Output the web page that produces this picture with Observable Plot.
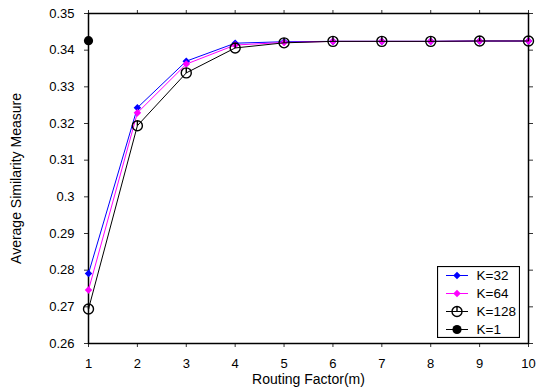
<!DOCTYPE html>
<html>
<head>
<meta charset="utf-8">
<script src="https://cdn.jsdelivr.net/npm/d3@7"></script>
<script src="https://cdn.jsdelivr.net/npm/@observablehq/plot@0.6"></script>
<style>
  body { margin: 0; background: #fff; }
  #wrap { position: relative; width: 538px; height: 391px; font-family: "Liberation Sans", Arial, sans-serif; }
  #legend { position: absolute; left: 437px; top: 266px; }
</style>
</head>
<body>
<div id="wrap"></div>
<script>
// ---- data ----
const routingFactor = [1, 2, 3, 4, 5, 6, 7, 8, 9, 10];
const k32  = [0.2791, 0.3243, 0.3370, 0.3419, 0.3423, 0.3424, 0.3424, 0.3424, 0.3425, 0.3425];
const k64  = [0.2746, 0.3229, 0.3362, 0.3414, 0.3421, 0.3424, 0.3424, 0.3424, 0.3425, 0.3425];
const k128 = [0.2694, 0.3194, 0.3338, 0.3406, 0.3420, 0.3424, 0.3424, 0.3424, 0.3425, 0.3425];
const k1x  = [1];
const k1y  = [0.3426];
const yTicks = [0.26, 0.27, 0.28, 0.29, 0.30, 0.31, 0.32, 0.33, 0.34, 0.35];
const seriesNames = ["K=32", "K=64", "K=128", "K=1"];
const seriesColors = ["#0000ff", "#ff00ff", "#000000", "#000000"];

const rows = (ys, name) => routingFactor.map((x, i) => ({x, y: ys[i], name}));
const d32 = rows(k32, "K=32");
const d64 = rows(k64, "K=64");
const d128 = rows(k128, "K=128");
const d1 = k1x.map((x, i) => ({x, y: k1y[i], name: "K=1"}));

// circle with a short vertical bar from the centre to the top (as in the reference)
const circleBar = {
  draw(ctx, size) {
    const r = Math.sqrt(size / Math.PI);
    ctx.moveTo(r, 0);
    ctx.arc(0, 0, r, 0, 2 * Math.PI);
    ctx.moveTo(0, 0);
    ctx.lineTo(0, -r);
  }
};

const fmt = d => String(+d.toFixed(2));

const chart = Plot.plot({
  width: 538,
  height: 391,
  marginLeft: 88,
  marginRight: 10,
  marginTop: 13,
  marginBottom: 48,
  style: {fontFamily: "Liberation Sans, Arial, sans-serif", fontSize: "13px", background: "#fff", color: "#000"},
  x: {domain: [1, 10]},
  y: {domain: [0.26, 0.35]},
  marks: [
    Plot.axisX({ticks: routingFactor, tickSize: 4, tickPadding: 11, fontSize: 13, label: null, stroke: "#333"}),
    Plot.axisX({anchor: "top", ticks: routingFactor, tickSize: 4, tickFormat: () => "", label: null, stroke: "#333"}),
    Plot.axisY({ticks: yTicks, tickSize: 4, tickPadding: 10, tickFormat: fmt, fontSize: 13, label: null, stroke: "#333"}),
    Plot.axisY({anchor: "right", ticks: yTicks, tickSize: 4, tickFormat: () => "", label: null, stroke: "#333"}),
    Plot.frame({stroke: "#000", strokeWidth: 1.5}),
    Plot.text(["Routing Factor(m)"], {frameAnchor: "bottom", dy: 40, fontSize: 14}),
    Plot.text(["Average Similarity Measure"], {frameAnchor: "left", textAnchor: "middle", dx: -72, rotate: -90, fontSize: 14}),
    Plot.line(d32, {x: "x", y: "y", stroke: "#0000ff", strokeWidth: 1}),
    Plot.dot(d32, {x: "x", y: "y", symbol: "diamond2", r: 3.4, fill: "#0000ff"}),
    Plot.line(d64, {x: "x", y: "y", stroke: "#ff00ff", strokeWidth: 1}),
    Plot.dot(d64, {x: "x", y: "y", symbol: "diamond2", r: 3.4, fill: "#ff00ff"}),
    Plot.line(d128, {x: "x", y: "y", stroke: "#000", strokeWidth: 1}),
    Plot.dot(d128, {x: "x", y: "y", symbol: circleBar, r: 5, fill: "none", stroke: "#000", strokeWidth: 1.4}),
    Plot.dot(d1, {x: "x", y: "y", symbol: "circle", r: 4.6, fill: "#000"})
  ]
});
const wrap = document.getElementById("wrap");
wrap.appendChild(chart);

// ---- legend ----
const lw = 82, lh = 71;
const leg = d3.select(wrap).append("svg").attr("id", "legend").attr("width", lw + 1).attr("height", lh + 1);
leg.append("rect").attr("x", 0.5).attr("y", 0.5).attr("width", lw).attr("height", lh)
  .attr("fill", "#fff").attr("stroke", "#000").attr("stroke-width", 1.2);
const symbolPaths = [
  d3.symbol(d3.symbolDiamond2, Math.PI * 3.4 * 3.4)(),
  d3.symbol(d3.symbolDiamond2, Math.PI * 3.4 * 3.4)(),
  d3.symbol(circleBar, Math.PI * 25)(),
  d3.symbol(d3.symbolCircle, Math.PI * 4.6 * 4.6)()
];
seriesNames.forEach((name, i) => {
  const g = leg.append("g").attr("transform", `translate(0,${9.5 + i * 18})`);
  g.append("line").attr("x1", 9).attr("x2", 31).attr("stroke", seriesColors[i]).attr("stroke-width", 1);
  const p = g.append("path").attr("d", symbolPaths[i]).attr("transform", "translate(20,0)");
  if (i === 2) p.attr("fill", "none").attr("stroke", "#000").attr("stroke-width", 1.4);
  else p.attr("fill", seriesColors[i]);
  g.append("text").attr("x", 39.5).attr("y", 0).attr("dy", "0.35em").attr("font-size", 13.5)
    .attr("font-family", "Liberation Sans, Arial, sans-serif").text(name);
});
</script>
</body>
</html>
